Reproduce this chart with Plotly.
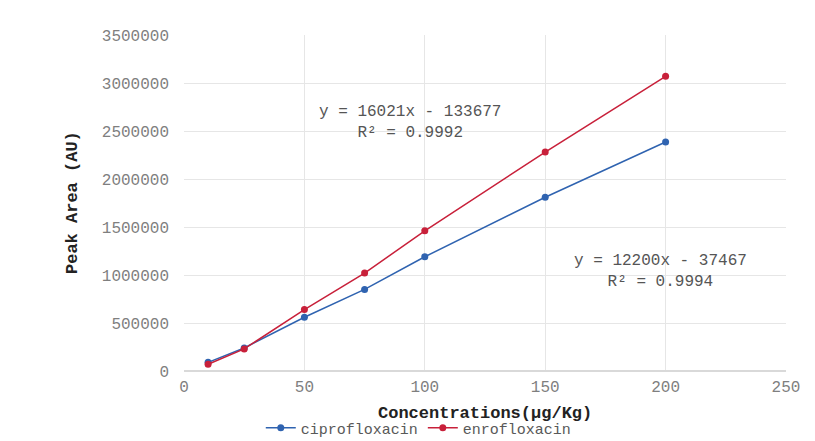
import plotly.graph_objects as go

conc = [10, 25, 50, 75, 100, 150, 200]
cipro = [90000, 240000, 560000, 850000, 1190000, 1810000, 2385000]
enro = [70000, 230000, 640000, 1020000, 1460000, 2280000, 3070000]
x_ticks = [0, 50, 100, 150, 200, 250]
y_ticks = [0, 500000, 1000000, 1500000, 2000000, 2500000, 3000000, 3500000]

MONO = "Courier New, Liberation Mono, monospace"
BLUE = "#2f63b0"
RED = "#c8203a"

fig = go.Figure()
fig.add_trace(go.Scatter(x=conc, y=cipro, name="ciprofloxacin", mode="lines+markers",
                         line=dict(color=BLUE, width=1.5), marker=dict(color=BLUE, size=7)))
fig.add_trace(go.Scatter(x=conc, y=enro, name="enrofloxacin", mode="lines+markers",
                         line=dict(color=RED, width=1.5), marker=dict(color=RED, size=7)))

fig.add_annotation(x=94, y=2590000, text="y = 16021x - 133677<br>R² = 0.9992", showarrow=False,
                   font=dict(family=MONO, size=16, color="#555555"), align="center")
fig.add_annotation(x=198, y=1040000, text="y = 12200x - 37467<br>R² = 0.9994", showarrow=False,
                   font=dict(family=MONO, size=16, color="#555555"), align="center")

# axis titles
fig.add_annotation(xref="paper", yref="paper", x=0, y=0.5, xshift=-112, textangle=-90,
                   text="<b>Peak Area (AU)</b>", showarrow=False, xanchor="center", yanchor="middle",
                   font=dict(family=MONO, size=17, color="#222222"))
fig.add_annotation(xref="paper", yref="paper", x=0.5, y=0, yshift=-42,
                   text="<b>Concentrations(µg/Kg)</b>", showarrow=False, xanchor="center", yanchor="middle",
                   font=dict(family=MONO, size=17, color="#222222"))

fig.update_layout(
    width=815, height=441,
    margin=dict(l=184, r=29, t=35, b=70, autoexpand=False),
    paper_bgcolor="white", plot_bgcolor="white",
    font=dict(family=MONO, color="#7f7f7f", size=16),
    legend=dict(orientation="h", x=0.39, xanchor="center", y=-0.17, yanchor="middle",
                font=dict(family=MONO, size=15, color="#595959"), itemwidth=30,
                tracegroupgap=0),
    xaxis=dict(range=[0, 250], tickvals=x_ticks, showgrid=True, gridcolor="#e6e6e6",
               zeroline=False, showline=False, ticks="", ticklabelstandoff=4,
               tickfont=dict(family=MONO, size=16, color="#7f7f7f")),
    yaxis=dict(range=[0, 3500000], tickvals=y_ticks, ticktext=[str(v) for v in y_ticks],
               showgrid=True, gridcolor="#e6e6e6", zeroline=True, zerolinecolor="#d9d9d9",
               showline=False, ticks="", ticklabelstandoff=14,
               tickfont=dict(family=MONO, size=16, color="#7f7f7f")),
)

fig.write_html("out.html")
